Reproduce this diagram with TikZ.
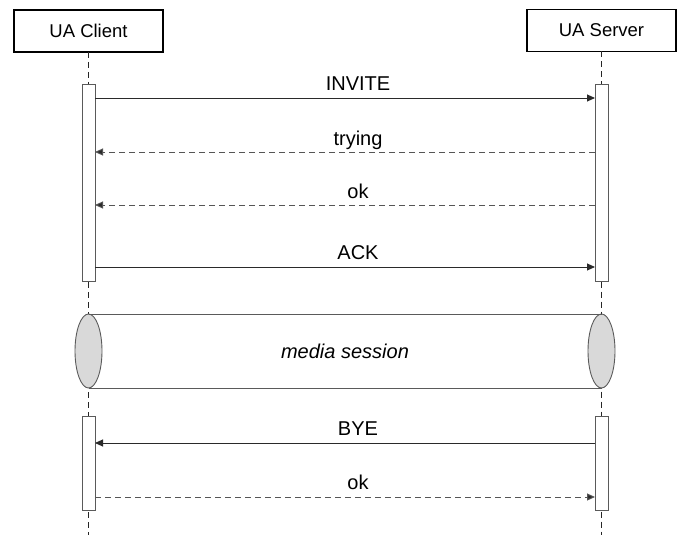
\documentclass[tikz,border=0pt]{standalone}
\usepackage{fontspec}
\setmainfont{Liberation Sans}
\usetikzlibrary{arrows.meta,shapes.geometric}

\definecolor{msgline}{HTML}{2A2A2A}
\definecolor{dashline}{HTML}{555555}
\definecolor{actborder}{HTML}{5A5A5A}
\definecolor{sessfill}{HTML}{D9D9D9}

\begin{document}
\begin{tikzpicture}[x=1pt,y=-1pt,
  header/.style={draw=black,line width=1.8pt,fill=white,minimum width=149pt,minimum height=42pt,
    inner sep=0pt,outer sep=0pt,font=\fontsize{18.5}{22}\selectfont},
  lifeline/.style={draw=black!85,line width=0.9pt,dash pattern=on 6pt off 4pt},
  activation/.style={draw=actborder,line width=0.9pt,fill=white,minimum width=13pt,inner sep=0pt,outer sep=0pt},
  call/.style={draw=msgline,line width=0.9pt,-{Triangle[length=8pt,width=7pt]}},
  reply/.style={draw=dashline,line width=1pt,dash pattern=on 6pt off 4pt,
    -{Triangle[length=8pt,width=7pt,fill=msgline]}},
  msglabel/.style={anchor=base,inner sep=0pt,font=\fontsize{20}{24}\selectfont},
  sessend/.style={draw=actborder,line width=0.9pt,fill=sessfill,ellipse,minimum width=27pt,
    minimum height=74pt,inner sep=0pt,outer sep=0pt}]

\path[use as bounding box] (0,0) rectangle (680,535);

% participants
\node[header] (client) at (88.5,31) {UA Client};
\node[header] (server) at (601.5,30.5) {UA Server};

% lifeline ends
\coordinate (clientend) at (88.5,535);
\coordinate (serverend) at (601.5,535);
\draw[lifeline] (client.south) -- (clientend);
\draw[lifeline] (server.south) -- (serverend);

% activation bars
\node[activation,minimum height=197pt] (ca1) at (88.5,182.5) {};
\node[activation,minimum height=197pt] (sa1) at (601.5,182.5) {};
\node[activation,minimum height=94pt] (ca2) at (88.5,463) {};
\node[activation,minimum height=94pt] (sa2) at (601.5,463) {};

% message rows
\coordinate (m1) at (0,98);
\coordinate (m2) at (0,152);
\coordinate (m3) at (0,205);
\coordinate (m4) at (0,267);
\coordinate (m5) at (0,443);
\coordinate (m6) at (0,497);

\draw[call]  (ca1.east |- m1) -- (sa1.west |- m1);
\draw[reply] (sa1.west |- m2) -- (ca1.east |- m2);
\draw[reply] (sa1.west |- m3) -- (ca1.east |- m3);
\draw[call]  (ca1.east |- m4) -- (sa1.west |- m4);
\draw[call]  (sa2.west |- m5) -- (ca2.east |- m5);
\draw[reply] (ca2.east |- m6) -- (sa2.west |- m6);

\node[msglabel] (l1) at (358,90) {INVITE};
\node[msglabel] (l2) at (358,145) {trying};
\node[msglabel] (l3) at (358,198) {ok};
\node[msglabel] (l4) at (358,259) {ACK};
\node[msglabel] (l5) at (358,435) {BYE};
\node[msglabel] (l6) at (358,489) {ok};

% media session drawn as a horizontal cylinder
\node[sessend] (sl) at (88.5,351) {};
\node[sessend] (sr) at (601.5,351) {};
\draw[draw=actborder,line width=0.9pt] (sl.north) -- (sr.north);
\draw[draw=actborder,line width=0.9pt] (sl.south) -- (sr.south);
\node[anchor=base,inner sep=0pt,font=\fontsize{20}{24}\selectfont\itshape] (media) at (345,358) {media session};

\end{tikzpicture}
\end{document}
